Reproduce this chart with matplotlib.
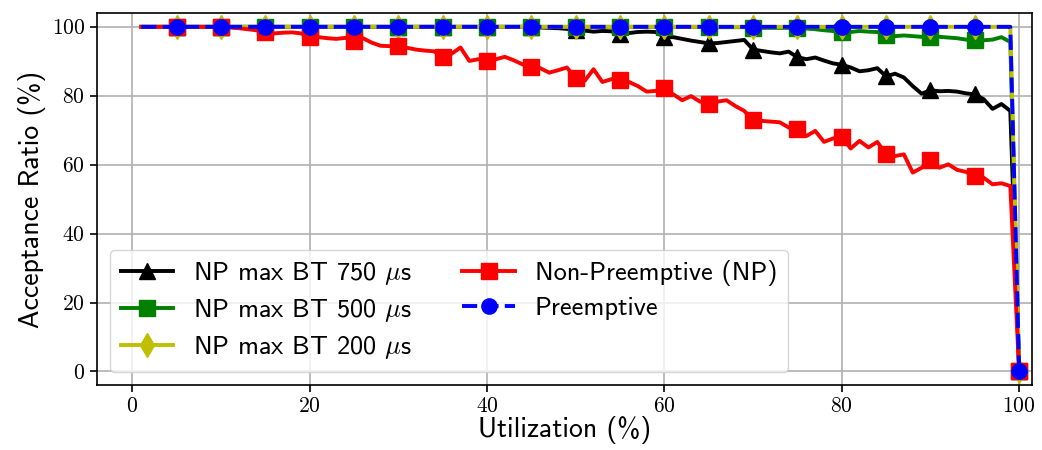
import matplotlib
matplotlib.use("Agg")
from matplotlib import pyplot
from matplotlib.ticker import FuncFormatter

# utilization (%) 1..100
util = list(range(1, 101))

# NP max BT 750 us
bt750 = [100.0] * 44 + [
    99.9, 99.8, 99.7, 99.6, 99.4, 99.0, 98.9, 98.6, 98.8, 98.7,
    98.0, 98.2, 98.5, 98.6, 98.5, 97.0, 97.0, 96.5, 96.0, 95.6,
    95.2, 95.3, 95.6, 95.9, 96.2, 93.4, 93.0, 92.6, 92.3, 92.8,
    91.2, 90.6, 91.1, 90.2, 89.4, 89.0, 88.2, 87.1, 87.4, 88.0,
    85.6, 86.4, 85.3, 82.8, 80.6, 81.6, 81.3, 81.4, 81.2, 80.7,
    80.4, 79.0, 76.2, 77.6, 75.6, 0.0]

# NP max BT 500 us
bt500 = [100.0] * 65 + [
    99.9, 99.9, 99.9, 99.9, 99.8, 99.7, 99.7, 99.7, 99.7, 99.6,
    99.5, 99.3, 99.0, 98.8, 98.6, 98.5, 98.8, 98.6, 98.5, 97.6,
    97.3, 97.5, 97.3, 97.1, 97.0, 97.1, 96.9, 96.7, 96.3, 96.1,
    96.1, 96.3, 97.0, 95.6, 0.0]

# NP max BT 200 us
bt200 = [100.0] * 99 + [0.0]

# Non-Preemptive
non_preemptive = [100.0] * 10 + [
    99.8, 99.6, 99.3, 99.0, 98.6, 98.1, 98.3, 98.4, 98.1, 97.1,
    97.0, 96.7, 96.5, 96.8, 95.9, 96.7, 95.4, 94.5, 94.4, 94.5,
    93.9, 93.4, 93.1, 92.9, 91.3, 92.2, 94.0, 90.1, 90.6, 90.1,
    90.6, 91.3, 90.3, 89.1, 88.4, 88.0, 86.7, 87.4, 88.2, 85.1,
    84.3, 87.7, 84.0, 84.8, 84.5, 84.0, 82.8, 81.2, 81.4, 82.2,
    80.4, 78.7, 79.9, 78.3, 77.7, 78.3, 78.7, 77.0, 75.6, 72.9,
    72.7, 72.5, 72.3, 70.8, 70.3, 68.3, 69.8, 66.6, 67.6, 68.1,
    64.7, 66.9, 65.0, 66.6, 63.0, 62.5, 63.0, 57.7, 59.1, 61.4,
    59.1, 60.1, 58.5, 57.9, 56.7, 56.2, 54.3, 54.6, 53.8, 0.0]

# Preemptive
preemptive = [100.0] * 99 + [0.0]

series = [
    (bt750, r"NP max BT 750 $\mu$s", "k", "^", "-"),
    (bt500, r"NP max BT 500 $\mu$s", "g", "s", "-"),
    (bt200, r"NP max BT 200 $\mu$s", "y", "d", "-"),
    (non_preemptive, "Non-Preemptive (NP)", "r", "s", "-"),
    (preemptive, "Preemptive", "b", "o", "--"),
]

pyplot.rcParams["font.family"] = ["cmss10", "DejaVu Sans"]
pyplot.rcParams["mathtext.fontset"] = "cm"
pyplot.rcParams["axes.unicode_minus"] = False

fig = pyplot.figure(figsize=(10.42, 4.5), dpi=100)
ax = fig.add_axes([0.093, 0.144, 0.897, 0.827])

marks = list(range(4, 100, 5))
for values, label, color, marker, ls in series:
    kw = dict(color=color, marker=marker, linestyle=ls, linewidth=2.8,
              markersize=12 if marker == "d" else 11, markevery=marks,
              label=label, zorder=3)
    if ls == "--":
        kw["dashes"] = (3.9, 1.6)
    ax.plot(util, values, **kw)

ax.set_xlim(-4, 101.4)
ax.set_ylim(-4, 104)
ax.set_xticks(range(0, 101, 20))
ax.set_yticks(range(0, 101, 20))
fmt = FuncFormatter(lambda v, p: f"${v:g}$")
ax.xaxis.set_major_formatter(fmt)
ax.yaxis.set_major_formatter(fmt)
ax.tick_params(labelsize=15.5, width=1.2, length=5)
ax.grid(True, color="#b0b0b0", linewidth=1.2, zorder=0)
ax.set_axisbelow(True)
for s in ax.spines.values():
    s.set_linewidth(1.2)

ax.set_xlabel("Utilization (%)", fontsize=20, labelpad=0)
ax.set_ylabel("Acceptance Ratio (%)", fontsize=20, labelpad=4)

ax.legend(loc="lower left", ncol=2, fontsize=19, handlelength=2.0,
          labelspacing=0.38, columnspacing=1.9, borderaxespad=0.5,
          handletextpad=0.75)

fig.savefig("out.png", dpi=100)
